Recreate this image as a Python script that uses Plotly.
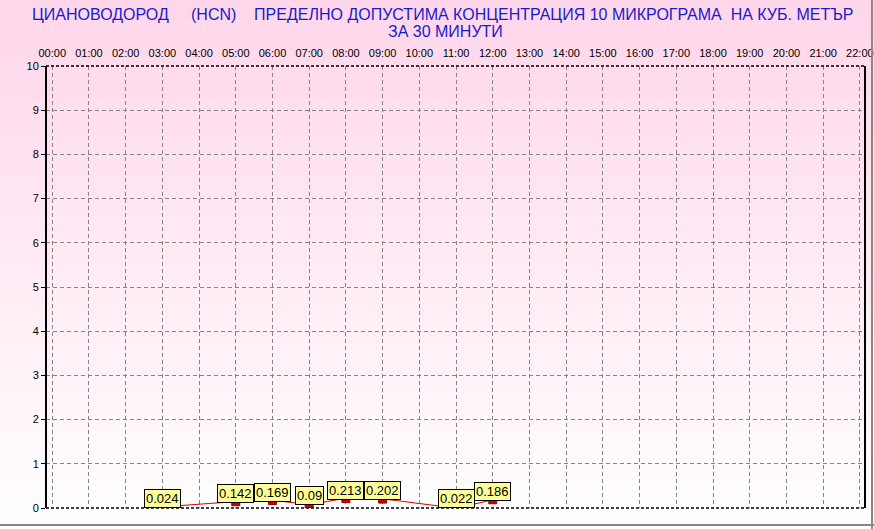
import plotly.graph_objects as go

# ---- data ----
hours = [3, 5, 6, 7, 8, 9, 11, 12]
values = [0.024, 0.142, 0.169, 0.09, 0.213, 0.202, 0.022, 0.186]
value_labels = ["0.024", "0.142", "0.169", "0.09", "0.213", "0.202", "0.022", "0.186"]
tick_hours = list(range(0, 23))
tick_labels = [f"{h:02d}:00" for h in tick_hours]
y_ticks = list(range(0, 11))

NB = "\u00a0"
title_line1 = ("ЦИАНОВОДОРОД" + NB * 5 + "(HCN)" + NB * 4 +
               "ПРЕДЕЛНО ДОПУСТИМА КОНЦЕНТРАЦИЯ 10 МИКРОГРАМА" + NB * 2 + "НА КУБ. МЕТЪР")
title_line2 = "ЗА 30 МИНУТИ"

W, H = 874, 529
ML, MR, MT, MB = 46, 9, 66, 21
pw, ph = W - ML - MR, H - MT - MB

fig = go.Figure()

fig.add_trace(go.Scatter(
    x=hours, y=values, mode="lines+markers",
    line=dict(color="#d00000", width=1, shape="spline", smoothing=0.6),
    marker=dict(symbol="square", size=8, color="#d00000",
                line=dict(color="#900000", width=1)),
    hoverinfo="skip", showlegend=False, cliponaxis=True,
))

shapes = []
# gradient background
n = 80
y0p = -MB / ph
y1p = 1 + MT / ph
x0p = -ML / pw
x1p = 1 + MR / pw
top = (255, 214, 234)
bot = (255, 255, 255)
for i in range(n):
    t = i / (n - 1)
    c = tuple(round(bot[k] + (top[k] - bot[k]) * t) for k in range(3))
    ya = y0p + (y1p - y0p) * i / n
    yb = y0p + (y1p - y0p) * (i + 1) / n + 0.002
    shapes.append(dict(type="rect", xref="paper", yref="paper", x0=x0p, x1=x1p,
                       y0=ya, y1=yb, fillcolor="rgb(%d,%d,%d)" % c,
                       line=dict(width=0), layer="below"))
# plot frame
shapes.append(dict(type="line", xref="paper", yref="paper", x0=0, x1=0, y0=0, y1=1,
                   line=dict(color="black", width=2)))
shapes.append(dict(type="line", xref="paper", yref="paper", x0=1, x1=1, y0=0, y1=1,
                   line=dict(color="black", width=2)))
shapes.append(dict(type="line", xref="paper", yref="paper", x0=0, x1=1, y0=1, y1=1,
                   line=dict(color="black", width=1.5, dash="3px,2px")))
shapes.append(dict(type="line", xref="paper", yref="paper", x0=0, x1=1, y0=0, y1=0,
                   line=dict(color="black", width=1.5, dash="3px,2px")))
# outer image border (bottom/right gray)
shapes.append(dict(type="line", xref="paper", yref="paper", x0=x0p, x1=x1p,
                   y0=-(MB - 4) / ph, y1=-(MB - 4) / ph, line=dict(color="#888888", width=2)))
shapes.append(dict(type="line", xref="paper", yref="paper", x0=1 + (MR - 2) / pw,
                   x1=1 + (MR - 2) / pw, y0=y0p, y1=y1p, line=dict(color="#888888", width=2)))

annotations = []
for h, v, lab in zip(hours, values, value_labels):
    annotations.append(dict(x=h, y=v, xref="x", yref="y", text=lab, showarrow=False,
                            xanchor="center", yanchor="bottom", yshift=-1,
                            font=dict(family="Liberation Sans, Arial", size=13, color="black"),
                            bgcolor="#ffff99", bordercolor="black", borderwidth=1, borderpad=1))
title_font = dict(family="Liberation Sans, Arial", size=16, color="#1a1acc")
title_x = 0.5 + (MR - ML) / 2 / pw + 0.007
annotations.append(dict(x=title_x, y=1 + (MT - 15) / ph, xref="paper", yref="paper",
                        text=title_line1, showarrow=False, xanchor="center", yanchor="middle",
                        font=title_font))
annotations.append(dict(x=title_x + 0.003, y=1 + (MT - 31) / ph, xref="paper", yref="paper",
                        text=title_line2, showarrow=False, xanchor="center", yanchor="middle",
                        font=title_font))

fig.update_layout(
    width=W, height=H,
    margin=dict(l=ML, r=MR, t=MT, b=MB, autoexpand=False),
    paper_bgcolor="white", plot_bgcolor="rgba(0,0,0,0)",
    shapes=shapes, annotations=annotations,
    font=dict(family="Liberation Sans, Arial", size=11, color="black"),
    xaxis=dict(range=[-0.17, 22.14], side="top", tickmode="array",
               tickvals=tick_hours, ticktext=tick_labels, showgrid=True,
               gridcolor="#858585", griddash="4px,3px", gridwidth=1,
               zeroline=False, showline=False, ticks="", ticklabelstandoff=6,
               tickfont=dict(size=11), fixedrange=True,
               automargin=False),
    yaxis=dict(range=[0, 10], tickmode="array", tickvals=y_ticks,
               showgrid=True, gridcolor="#858585", griddash="4px,3px", gridwidth=1,
               zeroline=False, showline=False, ticks="outside", ticklen=4,
               tickcolor="black", tickfont=dict(size=11),
               fixedrange=True, automargin=False),
)

fig.write_html("out.html", config={"displayModeBar": False},
               post_script="document.body.style.margin='0px';document.body.style.overflow='hidden';")
